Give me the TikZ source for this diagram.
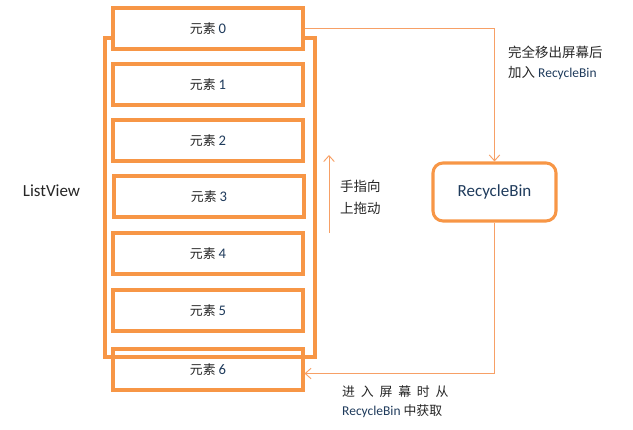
\documentclass[tikz,border=0pt]{standalone}
\usepackage{fontspec}
\setmainfont{Carlito}
\newfontfamily\cjk{Noto Sans CJK SC}
\usetikzlibrary{arrows.meta, positioning}
\definecolor{boxorange}{HTML}{F79646}
\definecolor{lineorange}{HTML}{F7A066}
\definecolor{numblue}{HTML}{1F3B5C}
\newcommand{\zh}[1]{{\cjk #1}}
\newcommand{\num}[1]{{\fontsize{12.5}{13}\selectfont\textcolor{numblue}{#1}}}

\begin{document}
\begin{tikzpicture}[
    x=0.03cm, y=-0.03cm,
    item/.style={draw=boxorange, line width=2.6pt, fill=white, minimum width=5.7cm, minimum height=1.23cm, inner sep=0pt, font=\fontsize{11}{13}\selectfont, text=black!85},
    frame/.style={draw=boxorange, line width=2.6pt, minimum width=6.3cm, minimum height=9.57cm, inner sep=0pt},
    bin/.style={draw=boxorange, line width=2.6pt, rounded corners=0.3cm, minimum width=3.69cm, minimum height=1.74cm, font=\fontsize{14.5}{16}\selectfont, text=numblue},
    flow/.style={-{Straight Barb[length=5pt, width=9pt]}, lineorange, line width=0.8pt},
    note/.style={align=left, anchor=west, inner sep=0pt, text=black!85, font=\fontsize{11.5}{17}\selectfont}
]
\useasboundingbox (0,0) rectangle (633,430);

% List items inside the ListView
\node[item] (e1) at (208,84.5)  {\zh{元素} \num{1}};
\node[item] (e2) at (208,140.5) {\zh{元素} \num{2}};
\node[item] (e3) at (209,196.5) {\zh{元素} \num{3}};
\node[item] (e4) at (208,253.5) {\zh{元素} \num{4}};
\node[item] (e5) at (208,310.5) {\zh{元素} \num{5}};
\node[item] (e6) at (208,369.5) {\zh{元素} \num{6}};

% ListView frame and label
\node[frame] (listview) at (210,197.5) {};
\node[font=\fontsize{14.5}{16}\selectfont, text=black!85] (lvlabel) at (51.5,191) {ListView};

% Item leaving the screen at the top
\node[item] (e0) at (208,28.5) {\zh{元素} \num{0}};

% Recycle bin
\node[bin] (recycle) at (494.5,192) {RecycleBin};

% Connectors
\draw[flow] (e0.east) -| (recycle.north);
\draw[flow] (recycle.south) |- ([yshift=-0.12cm]e6.east);

% Drag direction
\coordinate (dragstart) at (329,233);
\coordinate (dragend) at (329,155);
\draw[flow] (dragstart) -- (dragend);

% Notes
\node[note] (outnote) at (508,63) {\zh{完全移出屏幕后}\\\zh{加入} {\fontsize{11.5}{17}\selectfont\textcolor{numblue}{RecycleBin}}};
\node[note, font=\fontsize{11.5}{19}\selectfont] (dragnote) at (340,197) {\zh{手指向}\\\zh{上拖动}};
\node[note, font=\fontsize{11}{16}\selectfont] (innote) at (342,401.5) {\zh{进\hspace{0.45em}入\hspace{0.45em}屏\hspace{0.45em}幕\hspace{0.45em}时\hspace{0.45em}从}\\{\fontsize{11.5}{16}\selectfont\textcolor{numblue}{RecycleBin}} \zh{中获取}};

\end{tikzpicture}
\end{document}
